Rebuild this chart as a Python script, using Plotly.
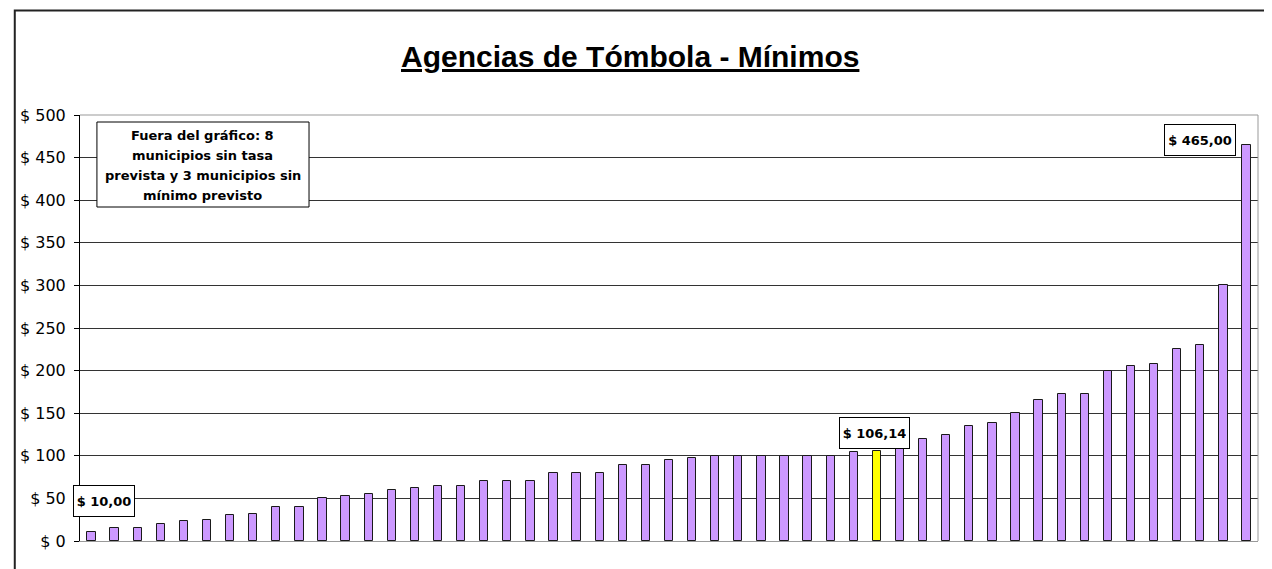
import plotly.graph_objects as go

# ---- data ----
minimos = [10, 15, 15, 20, 23, 25, 30, 32, 40, 40, 50, 53, 55, 60, 62, 65, 65, 70, 70, 70,
           80, 80, 80, 89, 89, 95, 97, 100, 100, 100, 100, 100, 100, 105, 106.14, 110, 120,
           125, 135, 138, 150, 165, 172, 172, 200, 205, 208, 225, 230, 300, 465]
promedio_idx = 34
promedio = 106.14
y_tick_vals = [0, 50, 100, 150, 200, 250, 300, 350, 400, 450, 500]
y_tick_text = ["$ 0", "$ 50", "$ 100", "$ 150", "$ 200", "$ 250", "$ 300", "$ 350",
               "$ 400", "$ 450", "$ 500"]
titulo = "Agencias de Tómbola - Mínimos"
nota = ["Fuera del gráfico: 8", "municipios sin tasa", "prevista y 3 municipios sin",
        "mínimo previsto"]

W, H = 1272, 569
OFF = 8  # page body margin of the browser
L, R, T, B = 75 - OFF, 1258 - OFF, 115 - OFF, 541 - OFF


def px(x):
    return (x - OFF - L) / (R - L)


def py(y):
    return (B - (y - OFF)) / (B - T)


def fmt(v):
    return "$ " + f"{v:.2f}".replace(".", ",")


cats = list(range(len(minimos)))
colors = ["#FFFF00" if i == promedio_idx else "#CC99FF" for i in cats]

fig = go.Figure()
fig.add_trace(go.Bar(x=cats, y=minimos, width=0.36,
                     marker=dict(color=colors, line=dict(color="#1a1a1a", width=1)),
                     hoverinfo="y"))

fig.update_layout(
    width=W, height=H,
    margin=dict(l=L, r=W - R, t=T, b=H - B),
    paper_bgcolor="white", plot_bgcolor="white",
    showlegend=False, bargap=0,
    font=dict(family="Liberation Sans, Arial", color="black"),
)
fig.update_xaxes(range=[-0.5, len(minimos) - 0.5], showticklabels=False, ticks="",
                 showgrid=False, zeroline=False, showline=True, linecolor="#999999",
                 linewidth=1, fixedrange=True)
fig.update_yaxes(range=[0, 500], tickvals=y_tick_vals, ticktext=y_tick_text,
                 showgrid=True, gridcolor="#333333", gridwidth=1, zeroline=False,
                 showline=True, linecolor="black", linewidth=1,
                 ticks="outside", ticklen=5, tickcolor="black", tickwidth=1,
                 ticklabelstandoff=5,
                 tickfont=dict(family="DejaVu Sans", size=16, color="black"),
                 fixedrange=True)

shapes = []
# plot area border (top/right)
shapes.append(dict(type="line", xref="paper", yref="paper", x0=0, x1=1, y0=1, y1=1,
                   line=dict(color="#999999", width=1)))
shapes.append(dict(type="line", xref="paper", yref="paper", x0=1, x1=1, y0=0, y1=1,
                   line=dict(color="#999999", width=1)))
# outer chart border
shapes.append(dict(type="rect", xref="paper", yref="paper", x0=px(9.5), x1=px(1300),
                   y0=py(600), y1=py(10.5), line=dict(color="#222222", width=2)))
# note box
shapes.append(dict(type="rect", xref="paper", yref="paper", x0=px(92), x1=px(305),
                   y0=py(207), y1=py(122), fillcolor="white",
                   line=dict(color="black", width=1), layer="above"))
fig.update_layout(shapes=shapes)

annotations = []
annotations.append(dict(xref="paper", yref="paper", x=px(627), y=py(56),
                        text="<u><b>" + titulo + "</b></u>", showarrow=False,
                        xanchor="center", yanchor="middle",
                        font=dict(family="Liberation Sans, Arial", size=30, color="black")))
for i, line in enumerate(nota):
    annotations.append(dict(xref="paper", yref="paper", x=px(198.5), y=py(135 + i * 20.2),
                            text="<b>" + line + "</b>", showarrow=False,
                            xanchor="center", yanchor="middle",
                            font=dict(family="DejaVu Sans", size=13, color="black")))

lbl_font = dict(family="DejaVu Sans", size=13, color="black")
imin = 0
imax = len(minimos) - 1
for idx, val, txt, xs, ys, w in [
    (imin, minimos[imin], fmt(minimos[imin]), 12, 31, 54),
    (promedio_idx, promedio, fmt(promedio), -2, 18, 63),
    (imax, minimos[imax], fmt(minimos[imax]), -46, 5, 64),
]:
    annotations.append(dict(xref="x", yref="y", x=idx, y=val, text="<b>" + txt + "</b>",
                            showarrow=False, xshift=xs, yshift=ys, xanchor="center",
                            yanchor="middle", bgcolor="white", bordercolor="black",
                            borderwidth=1, borderpad=3, width=w, height=24,
                            font=lbl_font))
fig.update_layout(annotations=annotations)

fig.write_html("out.html")
